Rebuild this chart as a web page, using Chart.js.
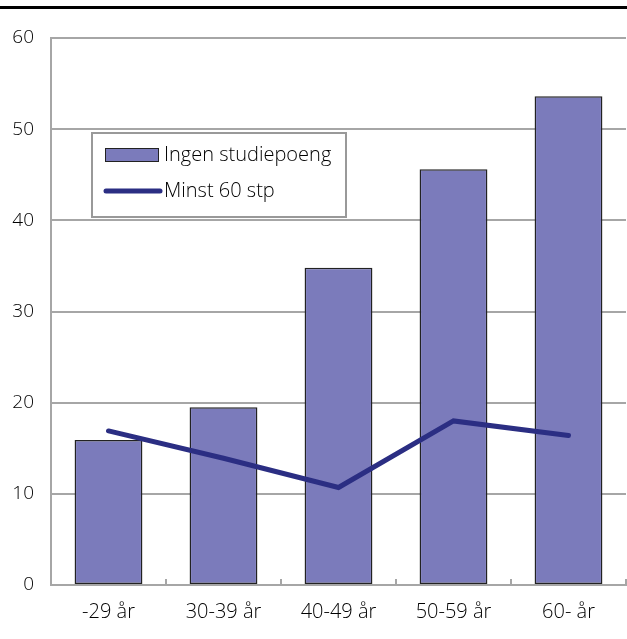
<!DOCTYPE html>
<html>
<head>
<meta charset="utf-8">
<script src="https://cdn.jsdelivr.net/npm/chart.js@4"></script>
<style>
  body { margin: 0; background: #fff; }
  #wrap { position: relative; width: 627px; height: 639px; }
  #topline { position: absolute; left: 0; top: 6px; width: 627px; height: 3px; background: #000; }
</style>
</head>
<body>
<div id="wrap">
  <div id="topline"></div>
  <canvas id="ageChart" width="627" height="639"></canvas>
</div>
<script>
const categories = ['-29 år', '30-39 år', '40-49 år', '50-59 år', '60- år'];
const ingenStudiepoeng = [15.9, 19.5, 34.8, 45.6, 53.6];
const minst60stp = [16.9, 13.9, 10.7, 18.0, 16.4];
const seriesNames = ['Ingen studiepoeng', 'Minst 60 stp'];

const barColor = '#7b7bbb';
const lineColor = '#2b2e83';
const gridColor = '#a6a6a6';
const font = "'Open Sans', 'Noto Sans', sans-serif";

// små tick-streker innover fra x-aksen + legendeboks
const extras = {
  id: 'extras',
  afterDatasetsDraw(chart) {
    const ctx = chart.ctx;
    const x = chart.scales.x;
    const bottom = chart.chartArea.bottom;
    ctx.save();
    ctx.strokeStyle = gridColor;
    ctx.lineWidth = 2;
    for (let i = 0; i < categories.length; i++) {
      const px = Math.round(x.getPixelForValue(i) + (x.getPixelForValue(1) - x.getPixelForValue(0)) / 2);
      ctx.beginPath();
      ctx.moveTo(px, bottom);
      ctx.lineTo(px, bottom - 6);
      ctx.stroke();
    }

    ctx.fillStyle = '#fff';
    ctx.fillRect(92, 133, 254, 84);
    ctx.strokeStyle = '#999';
    ctx.lineWidth = 2;
    ctx.strokeRect(92, 133, 254, 84);

    ctx.fillStyle = barColor;
    ctx.fillRect(105, 148, 54, 14);
    ctx.strokeStyle = '#222';
    ctx.lineWidth = 1;
    ctx.strokeRect(105.5, 148.5, 53, 13);

    ctx.strokeStyle = lineColor;
    ctx.lineWidth = 5;
    ctx.lineCap = 'round';
    ctx.beginPath();
    ctx.moveTo(106, 191);
    ctx.lineTo(160, 191);
    ctx.stroke();

    ctx.fillStyle = '#000';
    ctx.font = '300 20px ' + font;
    ctx.textBaseline = 'middle';
    ctx.fillText(seriesNames[0], 164, 155);
    ctx.fillText(seriesNames[1], 164, 191);
    ctx.restore();
  }
};

new Chart(document.getElementById('ageChart'), {
  data: {
    labels: categories,
    datasets: [
      {
        type: 'line',
        label: seriesNames[1],
        data: minst60stp,
        borderColor: lineColor,
        borderWidth: 5,
        borderCapStyle: 'round',
        pointRadius: 0,
        tension: 0,
        order: 0
      },
      {
        type: 'bar',
        label: seriesNames[0],
        data: ingenStudiepoeng,
        backgroundColor: barColor,
        borderColor: '#222',
        borderWidth: 1.5,
        borderSkipped: false,
        barPercentage: 0.59,
        categoryPercentage: 1,
        order: 1
      }
    ]
  },
  options: {
    responsive: false,
    animation: false,
    layout: { padding: { top: 38, right: 1, left: 0, bottom: 0 } },
    plugins: { legend: { display: false }, tooltip: { enabled: false } },
    scales: {
      x: {
        grid: { display: false, drawTicks: false },
        border: { color: gridColor, width: 2 },
        ticks: { color: '#000', font: { family: font, size: 20, weight: 300 }, padding: 15 },
        afterFit: s => { s.height = 54; }
      },
      y: {
        min: 0,
        max: 60,
        ticks: { stepSize: 10, color: '#000', font: { family: font, size: 19, weight: 300 }, padding: 17 },
        grid: { color: gridColor, lineWidth: 2, drawTicks: false },
        border: { color: gridColor, width: 2 },
        afterFit: s => { s.width = 51; }
      }
    }
  },
  plugins: [extras]
});
</script>
</body>
</html>
